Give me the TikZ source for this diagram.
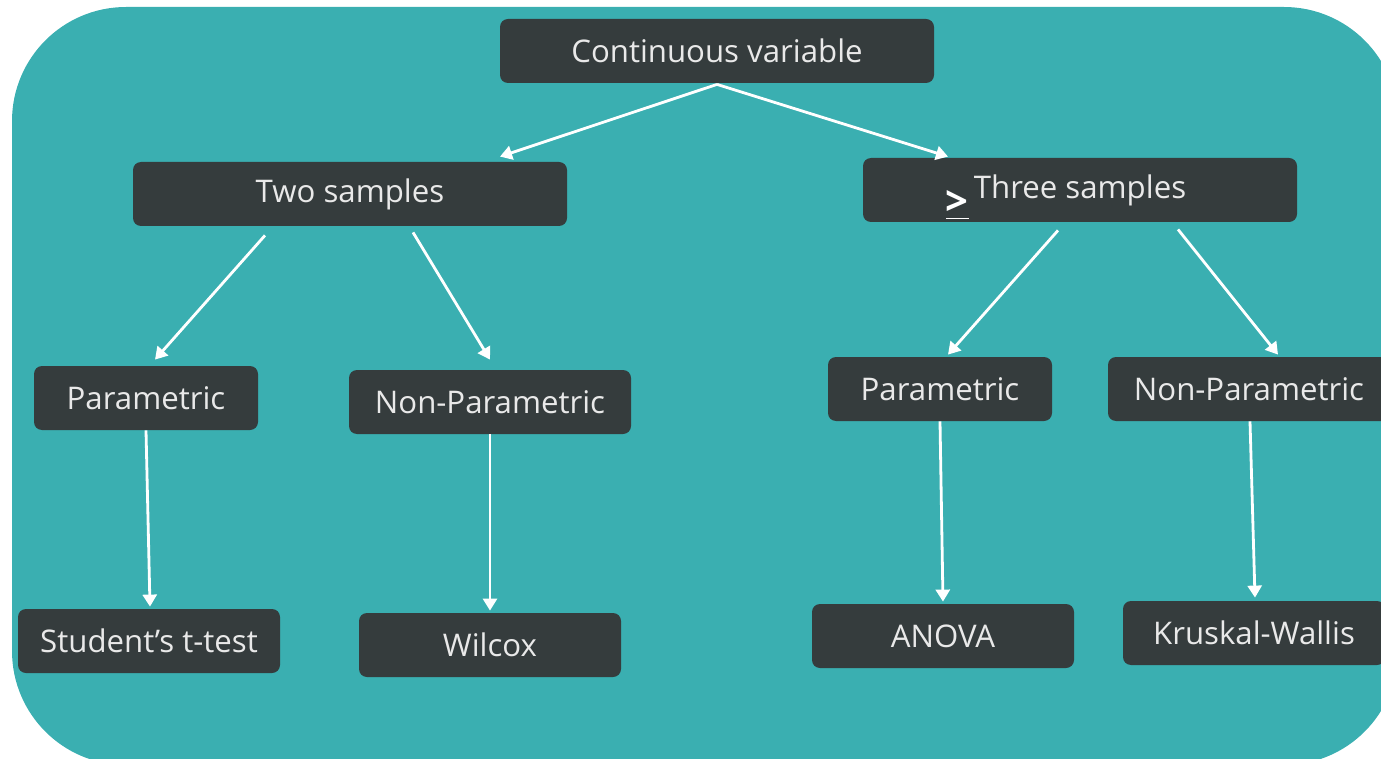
\documentclass[tikz,border=0pt]{standalone}
\usepackage{fontspec}
\setmainfont{Open Sans}
\usetikzlibrary{arrows.meta,calc}
\definecolor{tealbg}{HTML}{3AAFB1}
\definecolor{boxgray}{HTML}{353C3D}
\definecolor{txtgray}{HTML}{E9E9E9}
\tikzset{
  box/.style={fill=boxgray, text=txtgray, rounded corners=4pt, inner sep=0pt,
    minimum height=32pt, font=\fontsize{15.6}{18}\selectfont},
  arr/.style={draw=white, line width=1.4pt, -{Triangle[length=6pt,width=7pt]}}
}
\begin{document}
\begin{tikzpicture}[x=0.5pt,y=-0.5pt]
  \useasboundingbox (0,0) rectangle (1381,759);
  \begin{scope}
    \clip (0,0) rectangle (1381,759);
    \fill[tealbg,rounded corners=57pt] (12,7) rectangle (1398,765);
  \end{scope}
  % top level
  \node[box,minimum width=217pt] (cont) at (717,51) {Continuous variable};
  \node[box,minimum width=217pt] (two) at (350,194) {Two samples};
  \node[box,minimum width=217pt] (three) at (1080,190)
    {\raisebox{-8.5pt}[0pt][0pt]{\textcolor{white}{\fontsize{20}{20}\selectfont\bfseries\underline{>}}}\,Three samples\kern14pt};
  % second level
  \node[box,minimum width=112pt] (parA) at (146,398) {Parametric};
  \node[box,minimum width=141pt] (nparA) at (490,402) {Non-Parametric};
  \node[box,minimum width=112pt] (parB) at (940,389) {Parametric};
  \node[box,minimum width=141pt] (nparB) at (1249,389) {Non-Parametric};
  % tests
  \node[box,minimum width=131pt] (ttest) at (149,641) {Student’s t-test};
  \node[box,minimum width=131pt] (wilcox) at (490,645) {Wilcox};
  \node[box,minimum width=131pt] (anova) at (943,636) {ANOVA};
  \node[box,minimum width=131pt] (kw) at (1254,633) {Kruskal-Wallis};
  % arrows
  \draw[arr] ($(cont.south)+(0,1)$) -- ($(two.north)+(150,-5)$);
  \draw[arr] ($(cont.south)+(0,1)$) -- ($(three.north)+(-132,-1)$);
  \draw[arr] ($(two.south)+(-85,9)$) -- ($(parA.north)+(9,-6)$);
  \draw[arr] ($(two.south)+(63,6)$) -- ($(nparA.north)+(0,-10)$);
  \draw[arr] ($(three.south)+(-22,8)$) -- ($(parB.north)+(8,-2)$);
  \draw[arr] ($(three.south)+(98,7)$) -- ($(nparB.north)+(29,-2)$);
  \draw[arr] (parA.south) -- ($(ttest.north)+(1,-2)$);
  \draw[arr] (nparA.south) -- ($(wilcox.north)+(0,-2)$);
  \draw[arr] (parB.south) -- ($(anova.north)+(0,-2)$);
  \draw[arr] ($(nparB.south)+(1,0)$) -- ($(kw.north)+(1,-3)$);
\end{tikzpicture}
\end{document}
